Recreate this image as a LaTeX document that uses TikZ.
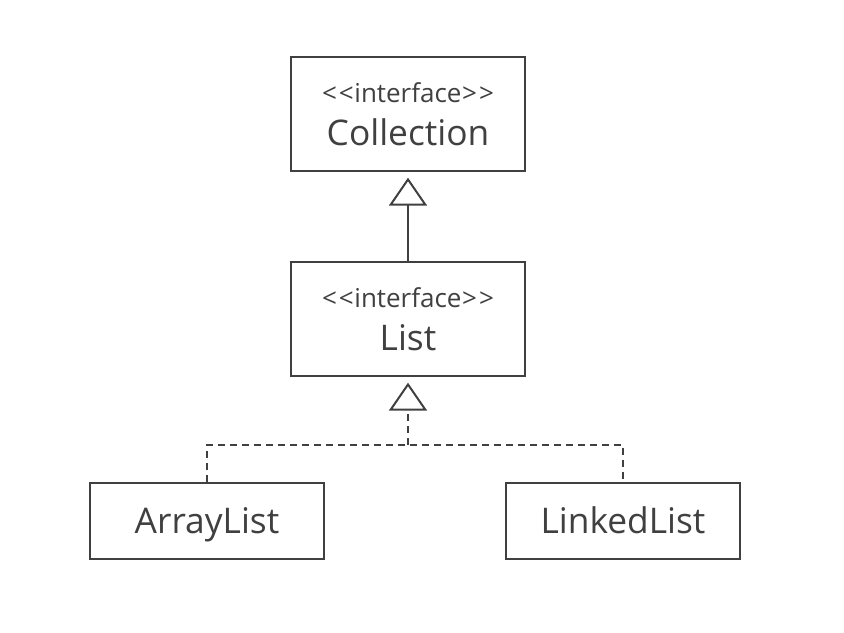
\documentclass[tikz,border=0pt]{standalone}
\usepackage{fontspec}
\setmainfont{Open Sans}
\usetikzlibrary{arrows.meta}
\definecolor{uml-line}{HTML}{404040}

\newcommand{\stereotype}{{\fontsize{19.5}{19.5}\selectfont <\kern1.5pt<\kern0.5pt interface\kern0.5pt>\kern1.5pt>}}

\begin{document}
\begin{tikzpicture}[x=0.75pt, y=-0.75pt,
      every node/.style={text=uml-line, font=\fontsize{26.5}{26.5}\selectfont},
      classbox/.style={draw=uml-line, line width=1.5pt, fill=white,
          minimum width=175.5pt, inner sep=0pt, align=center},
      implbox/.style={classbox, minimum height=57pt, text height=22pt, text depth=3pt},
      inherit/.style={draw=uml-line, line width=1.5pt,
          -{Triangle[open, width=28.5pt, length=21pt]}, shorten >=4pt},
      realize/.style={draw=uml-line, line width=1.5pt, dash pattern=on 5.5pt off 3.5pt}]
    \useasboundingbox (0,0) rectangle (844,633);
    % interfaces
    \node[classbox, minimum height=86pt] (coll) at (408,114) {\stereotype\\[6pt]Collection};
    \node[classbox, minimum height=86pt] (list) at (408,319) {\stereotype\\[6pt]List};
    % implementations
    \node[implbox] (alist) at (207,521) {ArrayList};
    \node[implbox] (llist) at (623,521) {LinkedList};
    \coordinate (join) at (408,445);
    \draw[inherit] (list.north) -- (coll.south);
    \draw[realize] (alist.north) |- (join) -| (llist.north);
    \draw[realize, inherit, dash pattern=on 5.5pt off 3.5pt] (join) -- (list.south);
\end{tikzpicture}
\end{document}
